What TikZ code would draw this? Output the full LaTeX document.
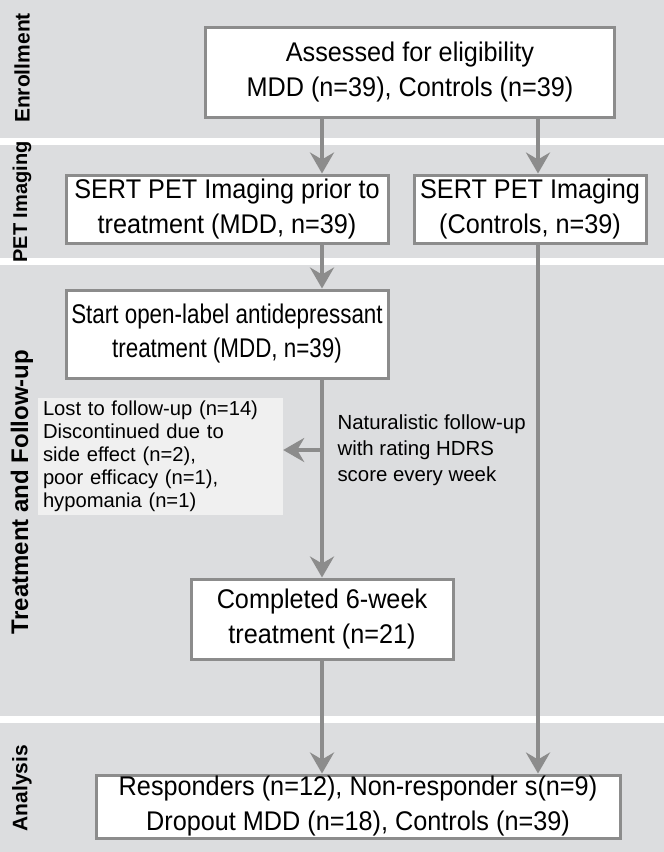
\documentclass[tikz,border=0pt]{standalone}
\usepackage{fontspec}
\setmainfont{Liberation Sans}
\newfontfamily\boxfont{Liberation Sans}[FakeStretch=0.935]
\newfontfamily\startfont{Liberation Sans}[FakeStretch=0.83]
\usetikzlibrary{arrows.meta,positioning}
\definecolor{bandgray}{HTML}{DCDDDF}
\definecolor{linegray}{HTML}{8C8C8C}
\definecolor{notegray}{HTML}{F0F0F0}
\tikzset{
	band/.style={fill=bandgray,draw=none},
	flowbox/.style={draw=linegray,line width=3pt,fill=white,align=center,inner sep=0pt,
		font=\boxfont\fontsize{27}{35}\selectfont},
	notebox/.style={fill=notegray,align=left,inner sep=0pt,text width=235pt,
		font=\fontsize{20.2}{23}\selectfont},
	phase/.style={rotate=90,font=\bfseries\fontsize{21}{25}\selectfont},
	flow/.style={draw=linegray,line width=4pt,-{Stealth[length=21pt,width=24pt,inset=7pt]}},
}
\begin{document}
\begin{tikzpicture}[x=1pt,y=-1pt]
	\useasboundingbox (0,0) rectangle (664,852);
	% phase bands
	\fill[white] (0,0) rectangle (664,852);
	\path[band] (0,0) rectangle (664,138);
	\path[band] (0,145) rectangle (664,258);
	\path[band] (0,265) rectangle (664,716);
	\path[band] (0,723) rectangle (664,852);
	\node[phase] (enrol) at (22,68) {Enrollment};
	\node[phase,font=\bfseries\fontsize{20}{24}\selectfont] (pet) at (22,202) {PET Imaging};
	\node[phase,font=\bfseries\fontsize{24}{28}\selectfont] (treat) at (22,492) {Treatment and Follow-up};
	\node[phase] (anal) at (22,788) {Analysis};
	% columns of the arrows
	\coordinate (colA) at (322,0);
	\coordinate (colB) at (538,0);
	% boxes
	\node[flowbox,minimum width=409pt,minimum height=90pt] (assess) at (410,72)
		{Assessed for eligibility\\MDD (n=39), Controls (n=39)};
	\node[flowbox,minimum width=322pt,minimum height=68pt] (sertmdd) at (227,209)
		{SERT PET Imaging prior to\\treatment (MDD, n=39)};
	\node[flowbox,minimum width=232pt,minimum height=68pt] (sertctl) at (530,209)
		{SERT PET Imaging\\(Controls, n=39)};
	\node[flowbox,minimum width=322pt,minimum height=88pt,
		font=\startfont\fontsize{27}{34}\selectfont] (start) at (227,334)
		{Start open-label antidepressant\\treatment (MDD, n=39)};
	\node[notebox,minimum width=245pt,minimum height=117pt] (lost) at (160.5,456.5)
		{Lost to follow-up (n=14)\\Discontinued due to\\side effect (n=2),\\poor efficacy (n=1),\\hypomania (n=1)};
	\node[anchor=west,align=left,font=\fontsize{20.4}{26}\selectfont] (natur) at (334,450)
		{Naturalistic follow-up\\with rating HDRS\\score every week};
	\node[flowbox,minimum width=262pt,minimum height=80pt] (done) at (322,619)
		{Completed 6-week\\treatment (n=21)};
	\node[flowbox,minimum width=524pt,minimum height=63pt] (result) at (358,806.5)
		{Responders (n=12), Non-responder s(n=9)\\Dropout MDD (n=18), Controls (n=39)};
	% connectors
	\draw[flow] (assess.south -| colA) -- (sertmdd.north -| colA);
	\draw[flow] (assess.south -| colB) -- (sertctl.north -| colB);
	\draw[flow] (sertmdd.south -| colA) -- (start.north -| colA);
	\draw[flow] (start.south -| colA) -- (done.north -| colA);
	\draw[flow] (lost.east |- natur.west) ++(39pt,0) -- (lost.east |- natur.west);
	\draw[flow] (done.south -| colA) -- (result.north -| colA);
	\draw[flow] (sertctl.south -| colB) -- (result.north -| colB);
\end{tikzpicture}
\end{document}
